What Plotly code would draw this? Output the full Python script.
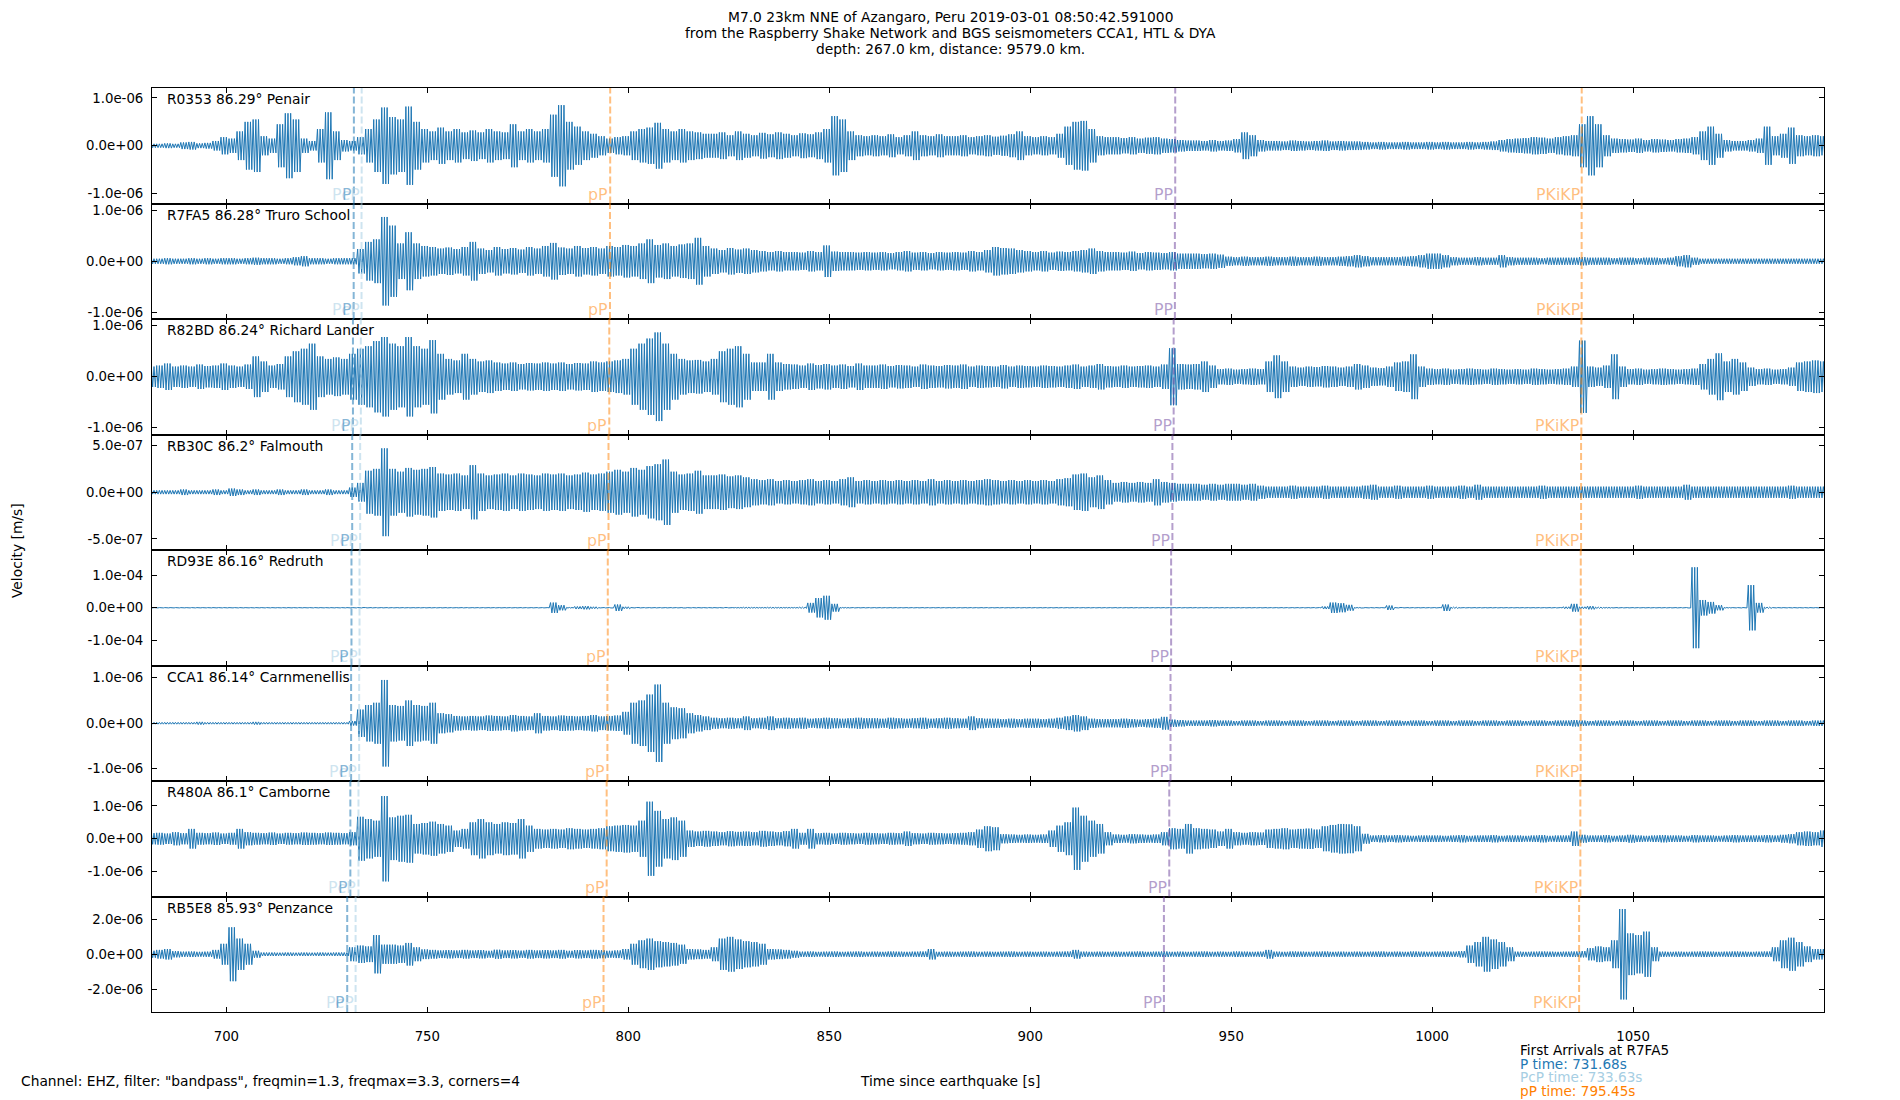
import plotly.graph_objects as go
from plotly.subplots import make_subplots

# ---------------- data ----------------
STATIONS = ["R0353", "R7FA5", "R82BD", "RB30C", "RD93E", "CCA1", "R480A", "RB5E8"]
DISTANCES = [86.29, 86.28, 86.24, 86.2, 86.16, 86.14, 86.1, 85.93]
PLACES = ["Penair", "Truro School", "Richard Lander", "Falmouth", "Redruth",
          "Carnmenellis", "Camborne", "Penzance"]

# envelope (peak |velocity|) read every 2 s, first sample at 681.5 s, unit 1e-8 m/s
T_FIRST = 681.5
T_STEP = 2.0
ENV_UNIT = 1e-8

ENV_R0353 = [
    4, 4, 5, 4, 7, 8, 5, 6, 10, 18,
    15, 30, 50, 55, 20, 15, 45, 68, 55, 15,
    10, 35, 70, 30, 12, 10, 18, 35, 55, 80,
    60, 55, 82, 50, 35, 30, 38, 30, 35, 28,
    32, 28, 35, 30, 28, 45, 30, 35, 30, 35,
    65, 85, 50, 40, 30, 25, 20, 15, 18, 20,
    30, 35, 38, 48, 35, 30, 35, 30, 28, 25,
    25, 28, 22, 30, 25, 22, 27, 24, 28, 25,
    22, 26, 24, 28, 35, 62, 55, 30, 22, 20,
    22, 20, 24, 18, 22, 30, 22, 20, 24, 20,
    20, 22, 18, 20, 22, 19, 21, 24, 30, 20,
    18, 20, 18, 25, 40, 50, 52, 35, 20, 18,
    18, 16, 18, 15, 17, 18, 15, 14, 12, 11,
    11, 10, 12, 10, 11, 14, 28, 22, 12, 10,
    10, 9, 11, 10, 9, 10, 11, 9, 10, 9,
    9, 8, 7, 8, 7, 7, 8, 7, 7, 8,
    7, 8, 7, 7, 8, 7, 8, 9, 12, 14,
    15, 16, 18, 17, 15, 18, 20, 22, 45, 62,
    45, 22, 15, 14, 13, 15, 12, 14, 13, 12,
    14, 15, 18, 30, 40, 25, 12, 10, 10, 12,
    15, 40, 20, 25, 38, 22, 20, 22, 20,
]
ENV_R7FA5 = [
    5, 5, 6, 5, 5, 6, 5, 6, 5, 6,
    6, 5, 6, 7, 6, 6, 5, 6, 8, 10,
    6, 6, 5, 6, 6, 6, 24, 38, 43, 87,
    70, 35, 57, 35, 30, 28, 25, 27, 24, 28,
    38, 25, 22, 28, 24, 26, 23, 28, 25, 30,
    36, 27, 25, 30, 26, 28, 25, 30, 28, 32,
    30, 35, 43, 32, 35, 30, 33, 35, 46, 30,
    25, 22, 26, 23, 25, 22, 20, 18, 20, 18,
    18, 17, 20, 18, 31, 19, 18, 18, 17, 18,
    17, 18, 16, 18, 20, 17, 18, 16, 18, 17,
    18, 17, 20, 18, 22, 28, 26, 25, 22, 20,
    18, 20, 17, 19, 18, 20, 22, 25, 20, 18,
    18, 17, 19, 16, 18, 17, 16, 18, 15, 15,
    15, 14, 15, 13, 9, 8, 9, 8, 8, 9,
    8, 8, 9, 8, 8, 9, 8, 8, 9, 10,
    12, 10, 8, 8, 8, 8, 9, 10, 12, 15,
    15, 12, 8, 7, 7, 8, 7, 7, 12, 8,
    7, 7, 7, 6, 7, 7, 7, 7, 8, 7,
    7, 7, 6, 7, 7, 6, 7, 7, 6, 7,
    10, 12, 7, 5, 5, 5, 5, 5, 5, 5,
    5, 5, 5, 5, 5, 5, 5, 5, 5,
]
ENV_R82BD = [
    20, 22, 26, 20, 22, 20, 24, 21, 22, 26,
    22, 20, 24, 40, 30, 22, 25, 40, 50, 55,
    65, 40, 35, 38, 35, 45, 55, 60, 70, 78,
    65, 60, 78, 60, 55, 72, 45, 35, 32, 45,
    35, 30, 32, 28, 26, 28, 25, 27, 26, 28,
    26, 28, 25, 27, 26, 30, 28, 30, 32, 35,
    55, 65, 75, 87, 65, 45, 35, 32, 33, 30,
    35, 50, 55, 60, 45, 28, 28, 45, 28, 25,
    24, 22, 26, 23, 25, 22, 24, 21, 26, 22,
    22, 24, 21, 23, 22, 20, 24, 22, 21, 23,
    22, 24, 20, 22, 21, 20, 23, 20, 22, 21,
    20, 22, 21, 20, 22, 24, 20, 22, 25, 21,
    20, 22, 20, 21, 22, 20, 24, 56, 25, 24,
    25, 30, 22, 15, 16, 14, 15, 16, 15, 30,
    42, 30, 20, 18, 20, 19, 21, 20, 18, 20,
    25, 22, 18, 17, 20, 28, 30, 44, 20, 16,
    15, 16, 14, 15, 16, 15, 14, 16, 15, 14,
    15, 14, 16, 15, 14, 15, 16, 20, 71, 20,
    18, 22, 44, 20, 15, 16, 14, 15, 16, 15,
    14, 15, 16, 25, 35, 46, 30, 35, 28, 18,
    15, 16, 14, 15, 18, 28, 30, 32, 30,
]
ENV_RB30C = [
    2, 2, 2, 2, 3, 2, 2, 2, 3, 2,
    4, 3, 2, 3, 2, 2, 3, 2, 2, 3,
    2, 2, 3, 2, 2, 5, 10, 23, 25, 47,
    25, 22, 26, 24, 25, 27, 20, 19, 20, 18,
    29, 20, 18, 19, 20, 18, 20, 19, 18, 20,
    19, 20, 18, 19, 21, 19, 20, 22, 24, 22,
    26, 24, 28, 30, 35, 22, 19, 20, 23, 18,
    18, 19, 17, 18, 16, 14, 13, 14, 12, 13,
    12, 13, 14, 12, 13, 12, 14, 16, 12, 13,
    12, 13, 12, 13, 12, 13, 12, 14, 12, 13,
    12, 13, 12, 13, 14, 13, 12, 13, 12, 13,
    12, 13, 12, 14, 15, 19, 20, 16, 18, 13,
    10, 11, 10, 11, 10, 14, 11, 10, 9, 9,
    9, 8, 9, 8, 9, 9, 8, 9, 7, 6,
    6, 6, 7, 6, 6, 6, 7, 6, 6, 6,
    6, 7, 8, 6, 6, 7, 6, 6, 6, 7,
    6, 6, 6, 7, 6, 8, 6, 6, 6, 6,
    6, 6, 6, 7, 6, 6, 6, 6, 6, 6,
    6, 6, 6, 6, 6, 7, 6, 6, 6, 6,
    6, 8, 6, 6, 6, 6, 6, 6, 6, 6,
    6, 6, 6, 6, 7, 6, 6, 6, 6,
]
ENV_RD93E = [
    40, 50, 45, 50, 40, 50, 45, 40, 50, 45,
    45, 50, 40, 45, 50, 45, 40, 50, 45, 40,
    50, 45, 40, 50, 45, 50, 60, 50, 45, 50,
    45, 50, 45, 40, 50, 45, 50, 45, 40, 50,
    45, 50, 45, 50, 40, 45, 50, 45, 50, 45,
    1600, 800, 100, 400, 500, 300, 60, 60, 1000, 300,
    60, 50, 50, 50, 50, 50, 60, 50, 50, 50,
    50, 60, 50, 80, 150, 120, 100, 150, 120, 100,
    100, 200, 1500, 3000, 3700, 1200, 100, 60, 50, 50,
    50, 45, 50, 45, 50, 45, 50, 45, 50, 45,
    50, 45, 50, 45, 50, 45, 50, 45, 50, 45,
    50, 45, 50, 45, 50, 45, 50, 45, 50, 45,
    50, 45, 50, 45, 50, 45, 50, 45, 50, 45,
    50, 45, 50, 45, 50, 45, 50, 45, 50, 45,
    50, 50, 50, 50, 50, 60, 400, 1600, 1400, 900,
    80, 50, 50, 50, 700, 60, 50, 50, 50, 50,
    60, 1000, 200, 50, 50, 50, 50, 50, 50, 50,
    50, 50, 50, 50, 50, 60, 300, 1200, 300, 500,
    200, 100, 60, 50, 50, 50, 50, 50, 50, 50,
    50, 60, 12500, 2400, 1800, 800, 80, 50, 60, 7000,
    1500, 200, 50, 50, 50, 50, 50, 50, 50,
]
ENV_CCA1 = [
    2, 2, 2, 2, 2, 2, 3, 2, 2, 2,
    2, 2, 2, 3, 2, 2, 2, 2, 2, 2,
    2, 2, 2, 2, 2, 5, 30, 40, 45, 95,
    40, 38, 50, 40, 38, 45, 22, 20, 16, 15,
    16, 15, 17, 16, 15, 18, 16, 15, 22, 16,
    15, 17, 16, 15, 16, 18, 15, 16, 17, 25,
    45, 50, 63, 85, 45, 35, 33, 22, 18, 15,
    12, 11, 12, 11, 15, 11, 12, 15, 11, 12,
    11, 12, 10, 11, 12, 11, 10, 11, 12, 11,
    11, 10, 12, 11, 10, 11, 12, 10, 11, 12,
    11, 10, 15, 11, 10, 10, 9, 10, 9, 10,
    10, 9, 10, 12, 15, 18, 15, 10, 9, 9,
    9, 10, 9, 8, 9, 10, 14, 8, 7, 6,
    6, 6, 7, 6, 6, 5, 6, 6, 5, 6,
    6, 5, 6, 6, 5, 6, 6, 5, 6, 6,
    5, 6, 6, 5, 6, 6, 5, 6, 6, 5,
    6, 6, 5, 6, 6, 5, 6, 6, 5, 6,
    6, 5, 6, 6, 5, 6, 6, 7, 6, 5,
    6, 6, 5, 6, 6, 5, 6, 6, 5, 6,
    6, 5, 6, 6, 5, 6, 6, 5, 6, 6,
    5, 6, 6, 5, 6, 6, 5, 6, 6,
]
ENV_R480A = [
    17, 18, 16, 20, 17, 30, 18, 17, 19, 16,
    18, 30, 20, 18, 17, 19, 16, 18, 17, 19,
    18, 17, 19, 18, 17, 20, 67, 60, 55, 130,
    65, 70, 73, 45, 48, 52, 45, 40, 25, 30,
    50, 60, 50, 45, 50, 48, 60, 40, 30, 28,
    30, 28, 32, 30, 28, 30, 32, 38, 40, 42,
    40, 55, 113, 85, 60, 65, 55, 25, 22, 24,
    22, 20, 23, 21, 22, 20, 24, 22, 20, 23,
    30, 18, 30, 17, 18, 16, 18, 17, 16, 18,
    17, 16, 18, 17, 22, 17, 16, 18, 17, 16,
    17, 18, 20, 28, 38, 35, 14, 13, 12, 13,
    12, 13, 25, 40, 50, 95, 70, 55, 45, 20,
    13, 12, 14, 13, 12, 13, 20, 32, 30, 45,
    32, 30, 28, 22, 30, 20, 18, 20, 19, 28,
    30, 32, 28, 30, 31, 28, 38, 42, 45, 44,
    38, 15, 10, 11, 10, 11, 10, 9, 10, 10,
    10, 9, 10, 11, 9, 10, 10, 11, 9, 10,
    10, 9, 10, 11, 9, 10, 10, 22, 12, 10,
    10, 11, 9, 10, 12, 10, 9, 10, 11, 10,
    10, 9, 11, 10, 10, 9, 10, 11, 10, 10,
    10, 11, 10, 12, 14, 20, 22, 20, 25,
]
ENV_RB5E8 = [
    20, 25, 30, 18, 15, 16, 14, 15, 25, 60,
    155, 90, 60, 20, 10, 10, 9, 10, 9, 10,
    9, 10, 9, 10, 10, 40, 50, 45, 110, 55,
    55, 50, 65, 40, 28, 25, 22, 24, 22, 25,
    22, 24, 20, 26, 22, 24, 21, 25, 22, 24,
    22, 25, 20, 24, 22, 25, 23, 20, 22, 30,
    60, 80, 90, 75, 70, 65, 55, 30, 28, 25,
    40, 90, 100, 85, 75, 70, 60, 30, 28, 25,
    20, 15, 16, 14, 15, 16, 14, 15, 16, 14,
    15, 14, 16, 15, 14, 15, 16, 30, 14, 15,
    14, 15, 16, 14, 15, 14, 15, 16, 14, 15,
    14, 15, 14, 15, 16, 25, 15, 14, 15, 14,
    15, 14, 15, 16, 14, 15, 16, 14, 15, 14,
    15, 16, 14, 15, 14, 16, 15, 14, 15, 25,
    15, 14, 16, 15, 14, 15, 16, 14, 15, 14,
    15, 14, 15, 16, 14, 15, 14, 16, 15, 14,
    15, 16, 15, 18, 50, 70, 100, 85, 70, 40,
    15, 14, 15, 16, 15, 14, 15, 16, 18, 35,
    45, 40, 80, 260, 120, 110, 130, 40, 15, 14,
    15, 14, 15, 16, 15, 14, 15, 16, 15, 14,
    15, 16, 40, 80, 95, 70, 45, 30, 30,
]
ENVELOPES = [ENV_R0353, ENV_R7FA5, ENV_R82BD, ENV_RB30C,
             ENV_RD93E, ENV_CCA1, ENV_R480A, ENV_RB5E8]

# theoretical arrival times per station [s]
P_TIME = [731.73, 731.68, 731.50, 731.31, 731.13, 731.04, 730.85, 730.07]
PCP_TIME = [733.67, 733.63, 733.46, 733.29, 733.13, 733.04, 732.87, 732.16]
PP_DEPTH_TIME = [795.50, 795.45, 795.27, 795.08, 794.90, 794.81, 794.62, 793.84]  # pP
PP_TIME = [936.08, 936.00, 935.69, 935.38, 935.06, 934.91, 934.60, 933.27]
PKIKP_TIME = [1037.22, 1037.20, 1037.13, 1037.06, 1036.98, 1036.95, 1036.88, 1036.57]
PHASE_NAMES = ["PcP", "P", "pP", "PP", "PKiKP"]
PHASE_TIMES = [PCP_TIME, P_TIME, PP_DEPTH_TIME, PP_TIME, PKIKP_TIME]

# axis values
Y_LIMIT = [1.209e-6, 1.135e-6, 1.134e-6, 6.18e-7, 1.785e-4, 1.268e-6, 1.76e-6, 3.32e-6]
Y_TICK_STEP = [1e-6, 1e-6, 1e-6, 5e-7, 1e-4, 1e-6, 1e-6, 2e-6]
X_TICKS = [700, 750, 800, 850, 900, 950, 1000, 1050]
X_RANGE = [681.5, 1097.5]

REF_STATION = "R7FA5"

# ---------------- styles ----------------
# the page body adds an 8 px offset, so the figure is 8 px smaller than the window
OFF = 8
W, H = 1900 - OFF, 1100 - OFF
PLOT_L, PLOT_R, PLOT_T, PLOT_B = 152, 1824, 88, 1012  # picture pixels
ML, MR, MT, MB = PLOT_L - OFF, W - (PLOT_R - OFF), PLOT_T - OFF, H - (PLOT_B - OFF)
FONT = "DejaVu Sans"
FS = 13.8
TICK_FS = 13.3
TRACE_COLOR = "#1f77b4"
PHASE_COLORS = ["rgba(166,206,227,0.55)", "rgba(31,120,180,0.55)",
                "rgba(255,127,0,0.5)", "rgba(106,61,154,0.5)", "rgba(255,127,0,0.5)"]
SUB = 6  # oscillation strokes drawn per envelope sample


def px_x(px):
    return (px - PLOT_L) / (PLOT_R - PLOT_L)


def px_y(py):
    return (PLOT_B - py) / (PLOT_B - PLOT_T)


fig = make_subplots(rows=len(STATIONS), cols=1, shared_xaxes=True, vertical_spacing=0)

for i, env in enumerate(ENVELOPES):
    r = i + 1
    xs, ys = [], []
    j = 0
    for k, a in enumerate(env):
        tk = T_FIRST + T_STEP * k
        for m in range(SUB):
            xs.append(tk - T_STEP / 2 + (m + 0.5) * T_STEP / SUB)
            ys.append((a if j % 2 == 0 else -a) * ENV_UNIT)
            j += 1
    fig.add_trace(go.Scatter(x=xs, y=ys, mode="lines",
                             line=dict(color=TRACE_COLOR, width=1),
                             hoverinfo="skip", showlegend=False), row=r, col=1)

    s = "" if r == 1 else str(r)
    for name, tl, col in zip(PHASE_NAMES, PHASE_TIMES, PHASE_COLORS):
        fig.add_shape(type="line", x0=tl[i], x1=tl[i], y0=0, y1=1,
                      xref=f"x{s}", yref=f"y{s} domain",
                      line=dict(color=col, width=2, dash="7px,3px"))
        fig.add_annotation(x=tl[i], y=0, xref=f"x{s}", yref=f"y{s} domain",
                           text=name, showarrow=False, xanchor="right", yanchor="bottom",
                           xshift=-1, yshift=-1, borderpad=0,
                           font=dict(family=FONT, size=15.8, color=col))

    fig.add_annotation(x=0, y=1, xref=f"x{s} domain", yref=f"y{s} domain",
                       text=f"{STATIONS[i]} {DISTANCES[i]}° {PLACES[i]}",
                       showarrow=False, xanchor="left", yanchor="top",
                       xshift=14, yshift=-2, borderpad=0,
                       font=dict(family=FONT, size=FS, color="black"))

    lim = Y_LIMIT[i]
    step = Y_TICK_STEP[i]
    tv = [step, 0.0, -step]
    fig.update_yaxes(range=[-lim, lim], tickvals=tv,
                     ticktext=[f"{v:.1e}" for v in tv], row=r, col=1)

axis_style = dict(showline=True, linecolor="black", linewidth=1, mirror="ticks",
                  ticks="inside", ticklen=5, tickwidth=1, tickcolor="black",
                  showgrid=False, zeroline=False,
                  tickfont=dict(family=FONT, size=TICK_FS, color="black"))
fig.update_xaxes(range=X_RANGE, tickvals=X_TICKS, ticklabelstandoff=12, **axis_style)
fig.update_yaxes(ticklabelstandoff=5, **axis_style)

title_lines = [
    "M7.0 23km NNE of Azangaro, Peru 2019-03-01 08:50:42.591000",
    "from the Raspberry Shake Network and BGS seismometers CCA1, HTL & DYA",
    "depth: 267.0 km, distance: 9579.0 km.",
]
for line, py in zip(title_lines, [17, 33, 49]):
    fig.add_annotation(x=px_x(950), y=px_y(py), xref="paper", yref="paper", text=line,
                       showarrow=False, xanchor="center", yanchor="middle",
                       font=dict(family=FONT, size=FS, color="black"))

fig.add_annotation(x=px_x(950), y=px_y(1081), xref="paper", yref="paper",
                   text="Time since earthquake [s]", showarrow=False,
                   xanchor="center", yanchor="middle",
                   font=dict(family=FONT, size=FS, color="black"))
fig.add_annotation(x=px_x(19), y=px_y(1081), xref="paper", yref="paper",
                   text='Channel: EHZ, filter: "bandpass", freqmin=1.3, freqmax=3.3, corners=4',
                   showarrow=False, xanchor="left", yanchor="middle",
                   font=dict(family=FONT, size=FS, color="black"))
fig.add_annotation(x=px_x(17), y=px_y(551), xref="paper", yref="paper",
                   text="Velocity [m/s]", showarrow=False, textangle=-90,
                   xanchor="center", yanchor="middle",
                   font=dict(family=FONT, size=FS, color="black"))

ri = STATIONS.index(REF_STATION)
info = [
    (f"First Arrivals at {REF_STATION}", "black"),
    (f"P time: {P_TIME[ri]:.2f}s", "#1f78b4"),
    (f"PcP time: {PCP_TIME[ri]:.2f}s", "#a6cee3"),
    (f"pP time: {PP_DEPTH_TIME[ri]:.2f}s", "#ff7f00"),
]
for (txt, col), py in zip(info, [1050, 1063.5, 1077, 1090.5]):
    fig.add_annotation(x=px_x(1519), y=px_y(py), xref="paper", yref="paper",
                       text=txt, showarrow=False, xanchor="left", yanchor="middle",
                       borderpad=0,
                       font=dict(family=FONT, size=13.6, color=col))

fig.update_layout(width=W, height=H, template="none",
                  margin=dict(l=ML, r=MR, t=MT, b=MB),
                  paper_bgcolor="white", plot_bgcolor="white",
                  showlegend=False, font=dict(family=FONT, size=FS, color="black"))

fig.write_html("out.html")
